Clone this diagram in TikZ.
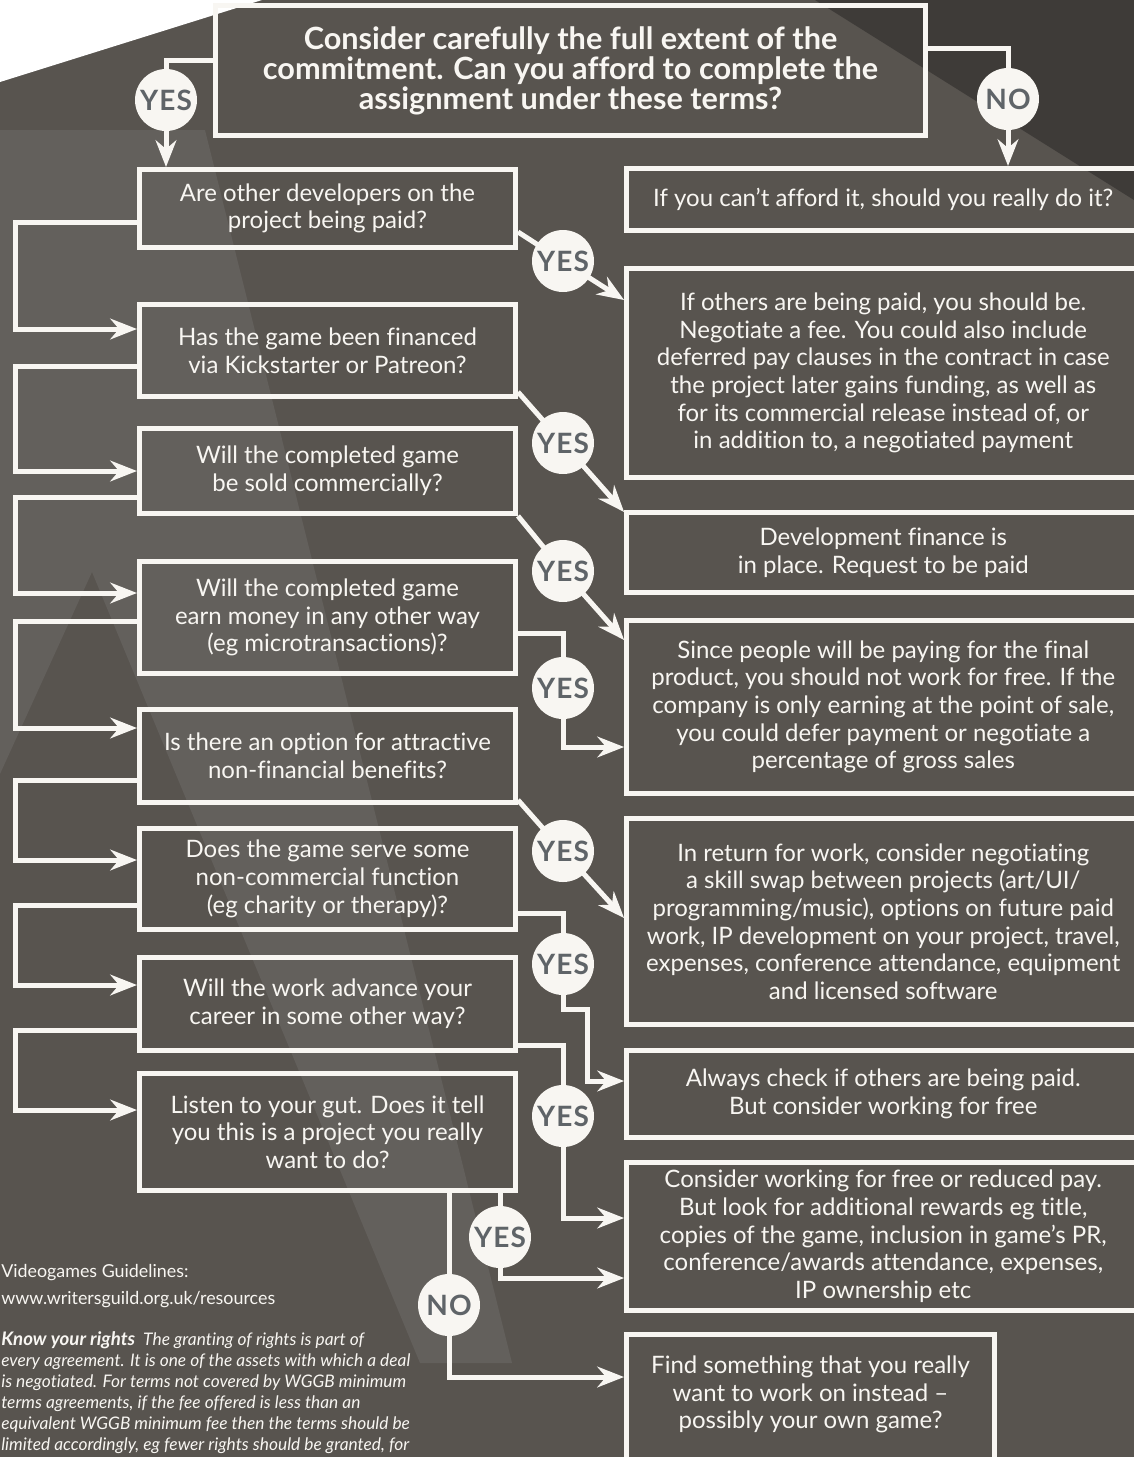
\documentclass[tikz,border=0pt]{standalone}
\usepackage{fontspec}
\setmainfont{Lato}[Ligatures=NoCommon]
\usetikzlibrary{arrows.meta}
\definecolor{bgbase}{HTML}{58544F}
\definecolor{bglight}{HTML}{63605C}
\definecolor{bgdark}{HTML}{3E3B38}
\definecolor{wline}{HTML}{F8F6F2}
\definecolor{yesgray}{HTML}{5F6468}
\pgfdeclarelayer{back}
\pgfdeclarelayer{conn}
\pgfsetlayers{back,conn,main}
\tikzset{
  boxbase/.style={draw=wline, line width=3.75pt, inner sep=0pt, align=center, text=wline, font=\fontsize{18}{20.75}\selectfont},
  qbox/.style={boxbase, minimum width=282pt},
  rbox/.style={boxbase, minimum width=385pt},
  topbox/.style={boxbase, minimum width=532.5pt, minimum height=97.5pt, font=\bfseries\fontsize{23}{22.5}\selectfont},
  yesdot/.style={circle, fill=wline, minimum size=46.5pt, inner sep=0pt, text=yesgray, font=\bfseries\fontsize{21}{21}\selectfont\addfontfeatures{LetterSpace=4}},
  conn/.style={draw=wline, line width=3.75pt, line join=miter},
  flow/.style={conn, -{Stealth[length=20pt, width=15.5pt, inset=6.5pt]}},
  note/.style={inner sep=0pt, align=left, text=wline, anchor=north west},
}
\begin{document}
\begin{tikzpicture}[x=0.75pt, y=-0.75pt]
\useasboundingbox (0,0) rectangle (1134,1457);
\begin{pgfonlayer}{back}
  \fill[bgbase] (0,0) rectangle (1134,1457);
  \fill[bglight] (0,130) -- (205,130) -- (512,1363) -- (420,1363) -- (92,572) -- (0,774) -- cycle;
  \fill[bgdark] (815,0) -- (1134,0) -- (1134,200) -- cycle;
  \fill[white] (0,0) -- (262,0) -- (0,82) -- cycle;
\end{pgfonlayer}

\foreach \v in {48,60,222,232,300,329,366,392,471,497,512,593,621,633,640,728,747,780,800,860,905,913,918,985,1009,1030,1045,1081,1110,1218,1278,1377}
  \coordinate (y\v) at (0,\v);
\coordinate (xL) at (15,0);
\coordinate (xJ) at (587,0);
\coordinate (x449) at (449,0);
\coordinate (x500) at (500,0);

% top question
\node[topbox] (T) at (570.5,70.5) {Consider carefully the full extent of the\\commitment. Can you afford to complete the\\assignment under these terms?};

% left column questions
\node[qbox, minimum height=58.5pt] (Q1) at (327.5,208.5) {Are other developers on the\\project being paid?};
\node[qbox, minimum height=69pt] (Q2) at (327.5,350.5) {Has the game been financed\\via Kickstarter or Patreon?};
\node[qbox, minimum height=63.75pt] (Q3) at (327.5,471) {Will the completed game\\be sold commercially?};
\node[qbox, minimum height=84pt] (Q4) at (327.5,617.5) {Will the completed game\\earn money in any other way\\(eg microtransactions)?};
\node[qbox, minimum height=69.75pt] (Q5) at (327.5,756) {Is there an option for attractive\\non-financial benefits?};
\node[qbox, minimum height=75.75pt] (Q6) at (327.5,879) {Does the game serve some\\non-commercial function\\(eg charity or therapy)?};
\node[qbox, minimum height=69.75pt] (Q7) at (327.5,1004) {Will the work advance your\\career in some other way?};
\node[qbox, minimum height=87.75pt] (Q8) at (327.5,1132) {Listen to your gut. Does it tell\\you this is a project you really\\want to do?};

% right column answers
\node[rbox, minimum height=46.5pt] (R1) at (883.25,199.5) {If you can’t afford it, should you really do it?};
\node[rbox, minimum height=156.75pt] (R2) at (883.25,373) {If others are being paid, you should be.\\Negotiate a fee. You could also include\\deferred pay clauses in the contract in case\\the project later gains funding, as well as\\for its commercial release instead of, or\\in addition to, a negotiated payment};
\node[rbox, minimum height=60pt] (R3) at (883.25,552.5) {Development finance is\\in place. Request to be paid};
\node[rbox, minimum height=129.75pt] (R4) at (883.25,707) {Since people will be paying for the final\\product, you should not work for free. If the\\company is only earning at the point of sale,\\you could defer payment or negotiate a\\percentage of gross sales};
\node[rbox, minimum height=154.5pt] (R5) at (883.25,921.5) {In return for work, consider negotiating\\a skill swap between projects (art/UI/\\programming/music), options on future paid\\work, IP development on your project, travel,\\expenses, conference attendance, equipment\\and licensed software};
\node[rbox, minimum height=65.25pt] (R6) at (883.25,1094) {Always check if others are being paid.\\But consider working for free};
\node[rbox, minimum height=111pt] (R7) at (883.25,1236.5) {Consider working for free or reduced pay.\\But look for additional rewards eg title,\\copies of the game, inclusion in game’s PR,\\conference/awards attendance, expenses,\\IP ownership etc};
\node[boxbase, minimum width=276pt, inner xsep=0pt, inner ysep=16pt, text depth=80pt, anchor=north west] (R8) at (624,1332) {Find something that you really\\want to work on instead –\\possibly your own game?};

% yes / no dots
\node[yesdot] (Y0) at (166,100) {YES};
\node[yesdot] (N0) at (1008,99) {NO};
\node[yesdot] (Y1) at (563,261) {YES};
\node[yesdot] (Y2) at (563,443) {YES};
\node[yesdot] (Y3) at (563,571) {YES};
\node[yesdot] (Y4) at (563,688) {YES};
\node[yesdot] (Y5) at (563,851) {YES};
\node[yesdot] (Y6) at (563,964) {YES};
\node[yesdot] (Y7) at (563,1116) {YES};
\node[yesdot] (Y8) at (500,1237) {YES};
\node[yesdot] (N8) at (449,1305) {NO};

% notes bottom left
\node[note, font=\fontsize{13.4}{20}\selectfont] (guide) at (1,1264) {Videogames Guidelines:\\www.writersguild.org.uk/resources};
\node[note, font=\itshape\fontsize{13}{15.75}\selectfont] (rights) at (1,1331) {{\bfseries\fontsize{14}{15.75}\selectfont Know your rights}\ \ The granting of rights is part of\\every agreement. It is one of the assets with which a deal\\is negotiated. For terms not covered by WGGB minimum\\terms agreements, if the fee offered is less than an\\equivalent WGGB minimum fee then the terms should be\\limited accordingly, eg fewer rights should be granted, for};

\begin{pgfonlayer}{conn}
  % top
  \draw[flow] (T.west |- y60) -| (Y0.center) -- (Y0.center |- Q1.north);
  \draw[flow] (T.east |- y48) -| (N0.center) -- (N0.center |- R1.north);
  % left loops
  \draw[flow] (Q1.west |- y222) -| (xL |- y329) -- (Q2.west |- y329);
  \draw[flow] (Q2.west |- y366) -| (xL |- y471) -- (Q3.west |- y471);
  \draw[flow] (Q3.west |- y497) -| (xL |- y593) -- (Q4.west |- y593);
  \draw[flow] (Q4.west |- y621) -| (xL |- y728) -- (Q5.west |- y728);
  \draw[flow] (Q5.west |- y780) -| (xL |- y860) -- (Q6.west |- y860);
  \draw[flow] (Q6.west |- y905) -| (xL |- y985) -- (Q7.west |- y985);
  \draw[flow] (Q7.west |- y1030) -| (xL |- y1110) -- (Q8.west |- y1110);
  % right side yes branches
  \draw[flow] (Q1.east |- y232) -- (Y1.center) -- (R2.west |- y300);
  \draw[flow] (Q2.east |- y392) -- (Y2.center) -- (R3.west |- y512);
  \draw[flow] (Q3.south east) -- (Y3.center) -- (R4.west |- y640);
  \draw[flow] (Q4.east |- y633) -| (Y4.center) |- (R4.west |- y747);
  \draw[flow] (Q5.east |- y800) -- (Y5.center) -- (R5.west |- y918);
  \draw[flow] (Q6.east |- y913) -| (Y6.center) |- (xJ |- y1009) |- (R6.west |- y1081);
  \draw[flow] (Q7.east |- y1045) -| (Y7.center) |- (R7.west |- y1218);
  \draw[flow] (Q8.south -| x500) -- (Y8.center) |- (R7.west |- y1278);
  \draw[flow] (Q8.south -| x449) -- (N8.center) |- (R8.west |- y1377);
\end{pgfonlayer}
\end{tikzpicture}
\end{document}
